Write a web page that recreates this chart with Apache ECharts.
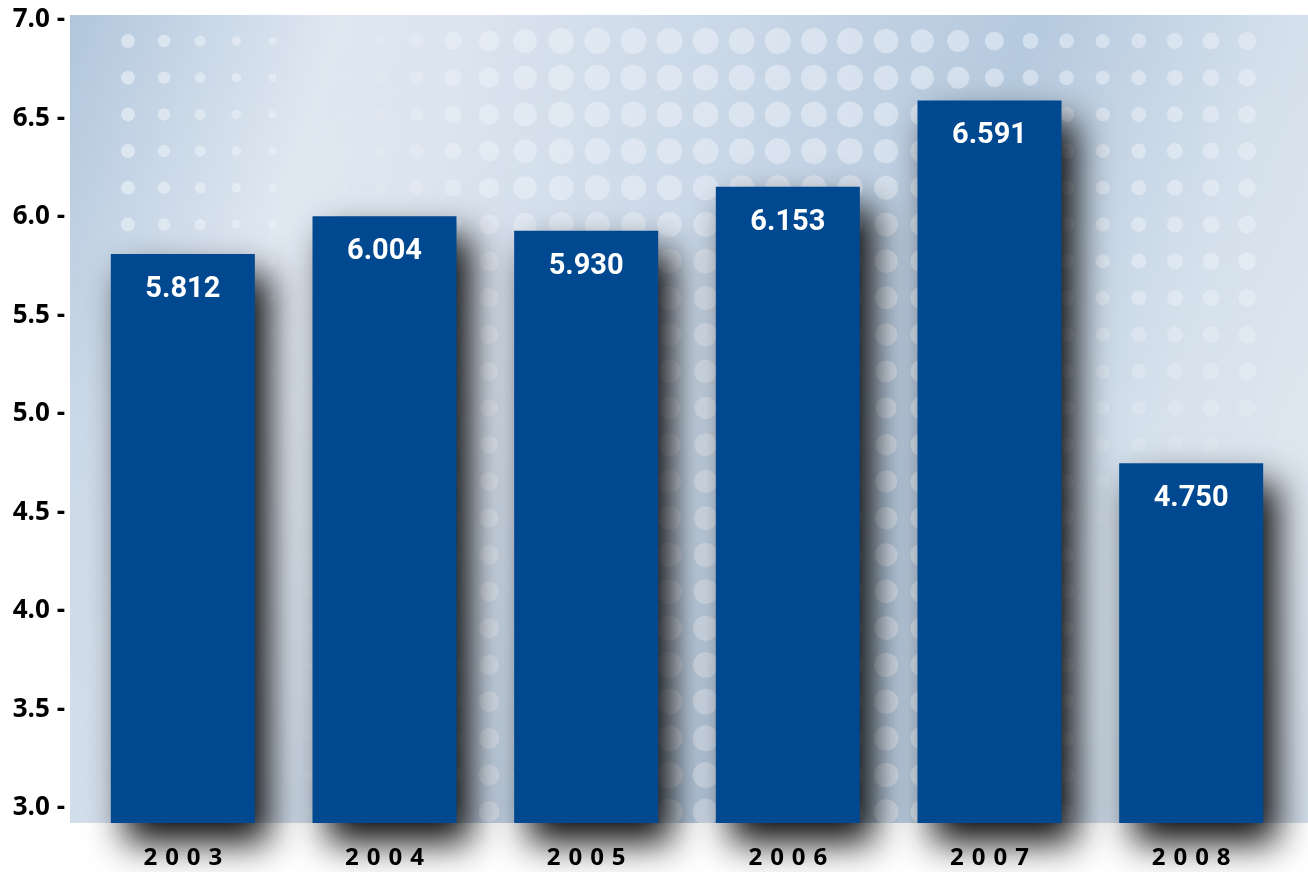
<!DOCTYPE html>
<html><head><meta charset="utf-8">
<script src="https://cdn.jsdelivr.net/npm/echarts@6/dist/echarts.min.js"></script>
<style>html,body{margin:0;padding:0;background:#fff}#c{width:1308px;height:872px}</style>
</head><body><div id="c"></div>
<script>
// ---- data ----
const years = ['2003', '2004', '2005', '2006', '2007', '2008'];
const values = [5.812, 6.004, 5.930, 6.153, 6.591, 4.750];
const valueLabels = ['5.812', '6.004', '5.930', '6.153', '6.591', '4.750'];
const yTicks = [3.0, 3.5, 4.0, 4.5, 5.0, 5.5, 6.0, 6.5, 7.0];
const axisMin = 2.924;   // bars start slightly below the 3.0 tick
const axisMax = 7;

// ---- decorative background (gradient + dot screen) ----
const PANEL = { x: 70, y: 15, w: 1238, h: 808 };
function interp(pts, x) {
  if (x <= pts[0][0]) return pts[0][1];
  for (let i = 1; i < pts.length; i++) {
    if (x <= pts[i][0]) {
      const t = (x - pts[i - 1][0]) / (pts[i][0] - pts[i - 1][0]);
      return pts[i - 1][1] + t * (pts[i][1] - pts[i - 1][1]);
    }
  }
  return pts[pts.length - 1][1];
}
function buildBg() {
  const c = document.createElement('canvas');
  c.width = PANEL.w; c.height = PANEL.h;
  const g = c.getContext('2d');
  const lg = g.createLinearGradient(0, 0, PANEL.w, PANEL.h * 0.45);
  lg.addColorStop(0.00, '#b1c6dc');
  lg.addColorStop(0.20, '#dfe7f1');
  lg.addColorStop(0.30, '#dbe4ef');
  lg.addColorStop(0.50, '#c9d7e7');
  lg.addColorStop(0.72, '#b5c9de');
  lg.addColorStop(0.90, '#d3dfeb');
  lg.addColorStop(1.00, '#dbe4ee');
  g.fillStyle = lg; g.fillRect(0, 0, PANEL.w, PANEL.h);
  const vg = g.createLinearGradient(0, 0, 0, PANEL.h);
  vg.addColorStop(0, 'rgba(255,255,255,0)');
  vg.addColorStop(0.5, 'rgba(255,255,255,0.08)');
  vg.addColorStop(1, 'rgba(150,180,210,0.12)');
  g.fillStyle = vg; g.fillRect(0, 0, PANEL.w, PANEL.h);
  const rPts = [[128,7],[273,4],[330,4],[418,7],[455,9],[550,13],[850,13],[960,11],[1030,8],[1100,7],[1250,9]];
  const aPts = [[128,0.55],[273,0.45],[305,0.12],[360,0.08],[418,0.3],[480,0.45],[1000,0.5],[1250,0.45]];
  for (let j = 0; j < 22; j++) {
    const ay = 41 + 36.7 * j;
    if (ay > 815) break;
    for (let i = 0; i < 32; i++) {
      const ax = 128 + 36.1 * i;
      if (ax > 1260) break;
      let r = interp(rPts, ax);
      let a = interp(aPts, ax);
      if (ax > 450 && ax < 900) r *= 0.85 + 0.15 * Math.abs(Math.cos((ay - 40) / 760 * Math.PI));
      if (ax < 300 && ay > 220) a *= Math.max(0.15, 1 - (ay - 220) / 300);
      if (ax > 1080 && ay > 260) a *= Math.max(0, 1 - (ay - 260) / 320);
      if (ax > 1230 && ay > 420) a = 0;
      if (a <= 0.01) continue;
      g.fillStyle = 'rgba(240,245,250,' + a.toFixed(3) + ')';
      g.beginPath();
      g.arc(ax - PANEL.x, ay - PANEL.y, r, 0, Math.PI * 2);
      g.fill();
    }
  }
  return c;
}

// stacked base so bars start at the axis minimum, not at zero
const baseData = values.map(() => axisMin);
const barData = values.map(v => v - axisMin);

const chart = echarts.init(document.getElementById('c'), null, { renderer: 'canvas' });
chart.setOption({
  animation: false,
  backgroundColor: '#ffffff',
  graphic: [{
    type: 'image', z: -10, silent: true,
    left: PANEL.x, top: PANEL.y,
    style: { image: buildBg(), width: PANEL.w, height: PANEL.h }
  }],
  grid: { left: 82, right: 16, top: 20, bottom: 49, containLabel: false },
  xAxis: {
    type: 'category',
    data: years,
    z: 10,
    axisLine: { show: false },
    axisTick: { show: false },
    axisLabel: {
      margin: 23,
      color: '#000',
      fontSize: 24,
      fontWeight: 'bold',
      fontFamily: '"Open Sans", "DejaVu Sans", sans-serif',
      formatter: v => v.split('').join('\u2009\u2009')
    }
  },
  yAxis: {
    type: 'value',
    min: axisMin,
    max: axisMax,
    splitLine: { show: false },
    axisLine: { show: false },
    axisTick: { show: false },
    axisLabel: {
      customValues: yTicks,
      margin: 17,
      color: '#000',
      fontSize: 26,
      fontWeight: 'bold',
      fontFamily: '"Open Sans", "DejaVu Sans", sans-serif',
      formatter: v => v.toFixed(1) + ' -'
    }
  },
  series: [{
    type: 'bar',
    stack: 'b',
    data: baseData,
    barWidth: 144,
    silent: true,
    itemStyle: { color: 'rgba(0,0,0,0)' },
    label: { show: false }
  }, {
    type: 'bar',
    stack: 'b',
    data: barData,
    barWidth: 144,
    clip: false,
    itemStyle: {
      color: '#00488f',
      shadowColor: 'rgba(0,0,0,0.95)',
      shadowBlur: 34,
      shadowOffsetX: 14,
      shadowOffsetY: 20
    },
    label: {
      show: true,
      position: 'insideTop',
      distance: 21,
      color: '#ffffff',
      fontSize: 29,
      fontWeight: 'bold',
      fontFamily: 'Roboto, "DejaVu Sans Condensed", sans-serif',
      formatter: p => valueLabels[p.dataIndex]
    }
  }]
});
</script>
</body></html>
